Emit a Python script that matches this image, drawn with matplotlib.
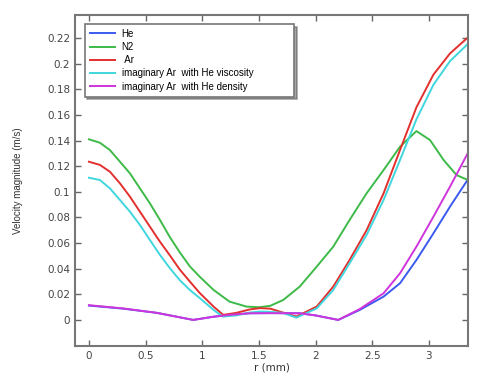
import numpy as np
import matplotlib
matplotlib.use("Agg")
import matplotlib.pyplot as plt

# данные (r в мм, скорость в м/с)
he_r = [0, 0.3, 0.6, 0.92, 1.1, 1.25, 1.42, 1.6, 1.86, 2.0, 2.2, 2.39, 2.6, 2.745, 2.89, 3.04, 3.186, 3.35]
he_v = [0.0112, 0.0088, 0.0055, 0.0, 0.0025, 0.004, 0.0052, 0.0053, 0.0052, 0.0035, 0.0, 0.0078, 0.0182,
        0.0286, 0.0468, 0.0676, 0.0884, 0.1105]

n2_r = [0, 0.097, 0.185, 0.274, 0.362, 0.45, 0.538, 0.627, 0.715, 0.80, 0.89, 0.98, 1.10, 1.24, 1.39,
        1.50, 1.60, 1.715, 1.86, 2.01, 2.156, 2.30, 2.45, 2.60, 2.745, 2.89, 3.01, 3.13, 3.245, 3.35]
n2_v = [0.141, 0.1383, 0.1326, 0.1235, 0.1144, 0.1027, 0.091, 0.078, 0.0645, 0.053, 0.0418, 0.0335,
        0.0234, 0.0143, 0.0104, 0.0099, 0.011, 0.0156, 0.026, 0.0416, 0.0572, 0.078, 0.0988, 0.117,
        0.1352, 0.1474, 0.1404, 0.1248, 0.113, 0.109]

ar_r = [0, 0.097, 0.185, 0.274, 0.362, 0.45, 0.538, 0.627, 0.715, 0.80, 0.89, 0.98, 1.10, 1.185,
        1.3, 1.42, 1.51, 1.60, 1.715, 1.83, 2.01, 2.156, 2.30, 2.45, 2.60, 2.745, 2.89, 3.04, 3.186, 3.35]
ar_v = [0.1235, 0.121, 0.1157, 0.1066, 0.0962, 0.0845, 0.0728, 0.061, 0.0503, 0.0395, 0.030, 0.0208,
        0.0104, 0.0039, 0.0055, 0.0082, 0.0092, 0.0088, 0.0057, 0.0026, 0.0104, 0.026, 0.0468, 0.070,
        0.0988, 0.1326, 0.166, 0.1915, 0.208, 0.221]

visc_r = [0, 0.097, 0.185, 0.274, 0.362, 0.45, 0.538, 0.627, 0.715, 0.80, 0.89, 0.98, 1.10, 1.18,
          1.3, 1.42, 1.51, 1.60, 1.71, 1.83, 2.01, 2.156, 2.30, 2.45, 2.60, 2.745, 2.89, 3.04, 3.186, 3.35]
visc_v = [0.111, 0.1092, 0.1027, 0.0936, 0.0845, 0.0741, 0.0624, 0.0507, 0.0403, 0.0312, 0.0234, 0.0169,
          0.0078, 0.0026, 0.0035, 0.0058, 0.0065, 0.0063, 0.0055, 0.0018, 0.009, 0.0234, 0.0442, 0.0663,
          0.0936, 0.1248, 0.1566, 0.1836, 0.202, 0.216]

dens_r = [0, 0.3, 0.6, 0.92, 1.1, 1.25, 1.42, 1.6, 1.86, 2.0, 2.2, 2.39, 2.6, 2.745, 2.89, 3.04, 3.186, 3.35]
dens_v = [0.0115, 0.009, 0.0055, 0.0, 0.0025, 0.004, 0.0052, 0.0053, 0.0052, 0.0035, 0.0, 0.0085, 0.0208,
          0.0364, 0.0572, 0.0806, 0.104, 0.1313]

labels = ["He", "N2", " Ar", "imaginary Ar  with He viscosity", "imaginary Ar  with He density"]
colors = ["#3b5bef", "#3dba48", "#e2302e", "#3fd6de", "#cf35dc"]

fig = plt.figure(figsize=(4.8, 3.76), dpi=100)
ax = fig.add_axes([0.156, 0.080, 0.819, 0.880])

series = [(he_r, he_v), (n2_r, n2_v), (ar_r, ar_v), (visc_r, visc_v), (dens_r, dens_v)]
for (r, v), lab, c in zip(series, labels, colors):
    ax.plot(r, v, color=c, lw=1.4, label=lab)

ax.set_xlim(-0.124, 3.345)
ax.set_ylim(-0.0203, 0.238)
ax.set_xticks([0, 0.5, 1, 1.5, 2, 2.5, 3])
ax.set_xticklabels(["0", "0.5", "1", "1.5", "2", "2.5", "3"])
ax.set_yticks(np.arange(0, 0.23, 0.02))
ax.set_yticklabels(["0", "0.02", "0.04", "0.06", "0.08", "0.1", "0.12", "0.14",
                    "0.16", "0.18", "0.2", "0.22"])
ax.tick_params(direction="in", top=True, right=True, length=4, width=1,
               color="#666666", labelsize=7.5, labelcolor="#444444")
for s in ax.spines.values():
    s.set_color("#777777")
    s.set_linewidth(1.5)

ax.set_xlabel("r (mm)", fontsize=7.5, color="#333333", labelpad=1)
ax.set_ylabel("Velocity magnitude (m/s)", fontsize=7, color="#333333", labelpad=17,
              family="Liberation Sans")

leg = ax.legend(loc="upper left", bbox_to_anchor=(0.025, 0, 0.532, 0.973), mode="expand",
                prop={"family": "Liberation Sans", "size": 7}, frameon=True,
                fancybox=False, shadow=True, handlelength=2.6, handletextpad=0.7,
                labelspacing=0.33, borderpad=0.5, borderaxespad=0)
leg.get_frame().set_edgecolor("#777777")
leg.get_frame().set_linewidth(1.2)

fig.savefig("out.png", dpi=100)
